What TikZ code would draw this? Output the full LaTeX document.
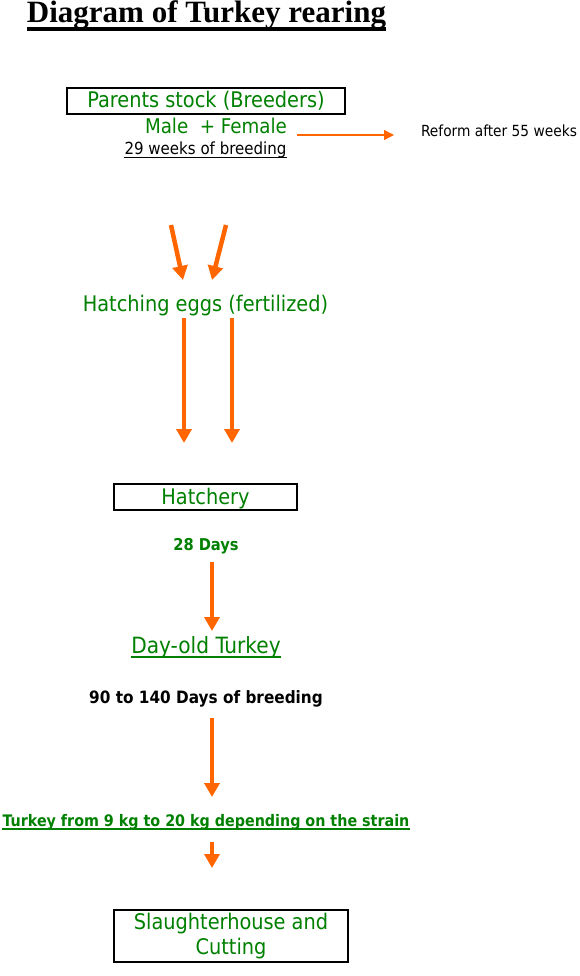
\documentclass[tikz,border=0pt]{standalone}
\usepackage{fontspec}
\setmainfont{DejaVu Sans Condensed}
\newfontfamily\titlefont{Liberation Serif}
\usetikzlibrary{arrows.meta}
\definecolor{leafgreen}{RGB}{0,128,0}
\definecolor{flameorange}{RGB}{255,102,0}

\begin{document}
\begin{tikzpicture}[x=1pt,y=-1pt,
  label/.style={inner sep=0pt,anchor=base},
  stage/.style={label,text=leafgreen,font=\fontsize{21.5}{25}\selectfont},
  stagebox/.style={draw,line width=1.3pt,inner sep=0pt,text=leafgreen,
    font=\fontsize{21.5}{25}\selectfont,text height=15pt,text depth=1pt},
  note/.style={label,font=\bfseries\fontsize{17}{20}\selectfont},
  flow/.style={flameorange,line width=4.5pt,-{Triangle[width=15pt,length=14pt]}},
  thinflow/.style={flameorange,line width=1.5pt,-{Triangle[width=10pt,length=10pt]}}]
\useasboundingbox (0,0) rectangle (580,976);
% Title
\node[label,font=\titlefont\bfseries\fontsize{31}{36}\selectfont] (title) at (206.5,23) {Diagram of Turkey rearing};
\draw[line width=4pt] ([yshift=-6pt]title.base west) -- ([yshift=-6pt]title.base east);
% Parents stock
\node[stagebox,minimum width=278pt,minimum height=26pt] (parents) at (206,101) {Parents stock (Breeders)};
\node[stage,font=\fontsize{20.3}{24}\selectfont] (sexes) at (216,134) {Male~ + Female};
\node[label,font=\fontsize{16.7}{20}\selectfont] (breeding) at (205.5,155) {29 weeks of breeding};
\draw[line width=1.3pt] ([yshift=-2.3pt]breeding.base west) -- ([yshift=-2.3pt]breeding.base east);
\node[label,font=\fontsize{15.3}{18}\selectfont] (reform) at (499,137) {Reform after 55 weeks};
\coordinate (reform-out) at (297,135);
\coordinate (reform-in) at (394,135);
\draw[thinflow] (reform-out) -- (reform-in);
% Hatching eggs
\coordinate (male-out) at (171,225);
\coordinate (male-in) at (183,280);
\coordinate (female-out) at (226,225);
\coordinate (female-in) at (212,280);
\draw[flow] (male-out) -- (male-in);
\draw[flow] (female-out) -- (female-in);
\node[stage] (eggs) at (205.5,311) {Hatching eggs (fertilized)};
\coordinate (eggs-left-out) at (184,318);
\coordinate (eggs-left-in) at (184,443);
\coordinate (eggs-right-out) at (232,318);
\coordinate (eggs-right-in) at (232,443);
\draw[flow] (eggs-left-out) -- (eggs-left-in);
\draw[flow] (eggs-right-out) -- (eggs-right-in);
% Hatchery
\node[stagebox,minimum width=183pt,minimum height=26pt] (hatchery) at (205.5,497) {Hatchery};
\node[note,text=leafgreen,font=\bfseries\fontsize{16.3}{20}\selectfont] (days) at (206,550) {28 Days};
\coordinate (days-out) at (212,562);
\coordinate (dayold-in) at (212,631);
\draw[flow] (days-out) -- (dayold-in);
% Day-old turkey
\node[stage,font=\fontsize{22.4}{26}\selectfont] (dayold) at (206,653) {Day-old Turkey};
\draw[leafgreen,line width=2.5pt] ([yshift=-4pt]dayold.base west) -- ([yshift=-4pt]dayold.base east);
\node[note] (growing) at (206,703) {90 to 140 Days of breeding};
\coordinate (growing-out) at (212,718);
\coordinate (weight-in) at (212,797);
\draw[flow] (growing-out) -- (weight-in);
% Weight at slaughter
\node[note,text=leafgreen,font=\bfseries\fontsize{15.9}{19}\selectfont] (weight) at (206,826) {Turkey from 9 kg to 20 kg depending on the strain};
\draw[leafgreen,line width=2.5pt] ([yshift=-3pt]weight.base west) -- ([yshift=-3pt]weight.base east);
\coordinate (weight-out) at (212,842);
\coordinate (slaughter-in) at (212,868);
\draw[flow] (weight-out) -- (slaughter-in);
% Slaughterhouse
\node[draw,line width=1.3pt,inner sep=0pt,text=leafgreen,align=center,
  font=\fontsize{21.5}{25}\selectfont,minimum width=234pt,minimum height=52pt] (slaughter) at (231,936) {Slaughterhouse and\\Cutting};
\end{tikzpicture}
\end{document}
